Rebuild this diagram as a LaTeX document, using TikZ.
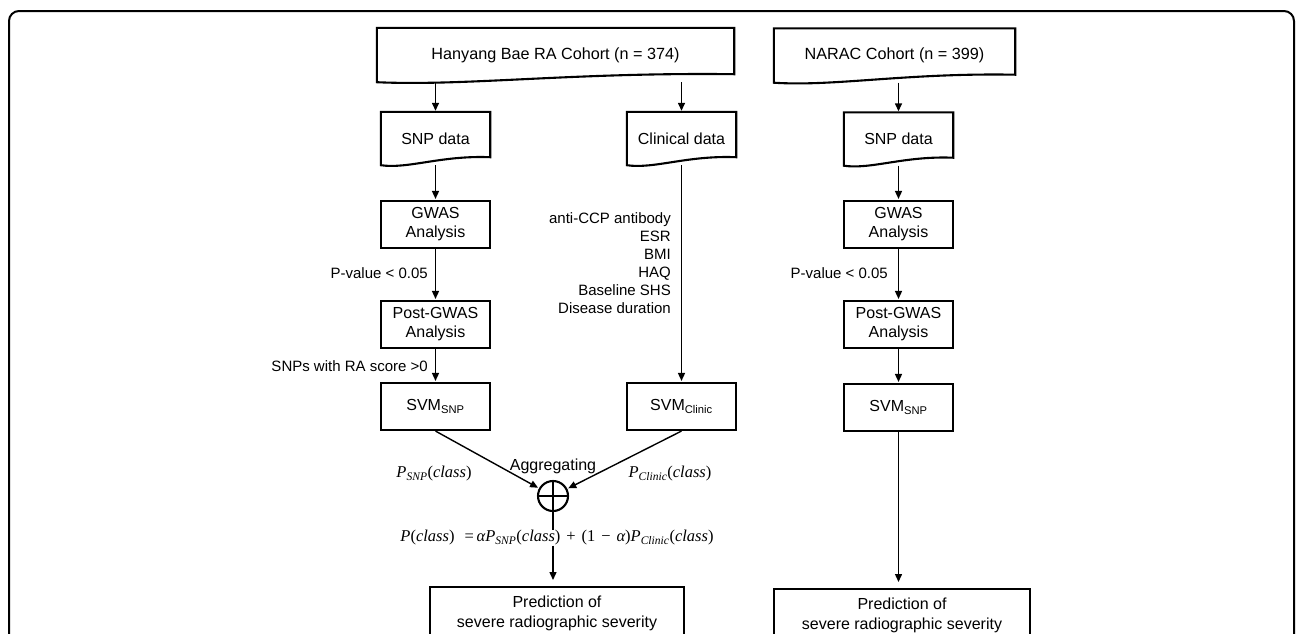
\documentclass[tikz,border=0pt]{standalone}
\usepackage{fontspec}
\setmainfont{Liberation Sans}
\newfontfamily\mathserif{Liberation Serif}
\usetikzlibrary{arrows.meta,calc}
\newcommand\mi[1]{{\itshape #1}}
\newcommand\msub[1]{\textsubscript{\itshape #1}}
\newcommand\opsp{\hspace{0.36em}}
\tikzset{
  boxline/.style={line width=2.1pt},
  box/.style={draw, boxline, minimum width=109pt, minimum height=47pt, inner sep=0pt, align=center, font=\fontsize{16}{19}\selectfont},
  docbox/.style={minimum width=109pt, minimum height=53pt, inner sep=0pt, align=center, font=\fontsize{16}{19}\selectfont},
  headbox/.style={docbox, minimum height=54pt, font=\fontsize{16.2}{20}\selectfont},
  predbox/.style={draw, boxline, anchor=north, minimum height=52pt, inner sep=0pt, align=center, font=\fontsize{16}{20}\selectfont},
  lbl/.style={inner sep=0pt, font=\fontsize{15}{18}\selectfont},
  mathlbl/.style={inner sep=0pt, font=\mathserif\fontsize{16.5}{19}\selectfont},
  arr/.style={line width=1.4pt, -{Triangle[length=8pt,width=7pt]}, shorten >=1pt},
  conn/.style={line width=1.4pt},
}
\newcommand\docoutline[1]{%
  \draw[boxline] (#1.north west) -- (#1.north east) -- ([yshift=8pt]#1.south east)
    .. controls ($(#1.south west)!0.55!(#1.south east)+(0,-10)$) and ($(#1.south west)!0.25!(#1.south east)+(0,4)$) .. (#1.south west) -- cycle;}
\begin{document}
\begin{tikzpicture}[x=1pt,y=-1pt]
\useasboundingbox (0,0) rectangle (1296,633);
\clip (0,0) rectangle (1296,633);
% frame
\draw[line width=2pt, rounded corners=10pt] (9,11) rectangle (1294,680);

% left / middle column
\node[headbox, minimum width=357pt] (hanyang) at (555.5,55) {Hanyang Bae RA Cohort (n = 374)};
\docoutline{hanyang}
\node[docbox] (snpL) at (435.5,138.5) {SNP data};
\docoutline{snpL}
\node[docbox] (clin) at (681.5,138.5) {Clinical data};
\docoutline{clin}
\node[box] (gwasL) at (435.5,224.5) {GWAS\\Analysis};
\node[box] (postL) at (435.5,324.5) {Post-GWAS\\Analysis};
\node[box] (svmL) at (435.5,406.5) {SVM\textsubscript{SNP}};
\node[box] (svmC) at (681.5,406.5) {SVM\textsubscript{Clinic}};
\node[circle, draw, boxline, minimum size=30pt, inner sep=0pt] (circ) at (553,496) {};
\draw[line width=1.6pt] (circ.north) -- (circ.south) (circ.west) -- (circ.east);
\node[lbl, font=\fontsize{16}{19}\selectfont] (aggr) at (553,466) {Aggregating};
\node[mathlbl] (psnp) at (434,474) {\mi{P}\msub{SNP}(\mi{class})};
\node[mathlbl] (pclin) at (670,474) {\mi{P}\msub{Clinic}(\mi{class})};
\node[mathlbl] (formula) at (557,538) {\mi{P}(\mi{class})\opsp\ =\,\mi{αP}\msub{SNP}(\mi{class})\opsp+\opsp(1\opsp−\opsp\mi{α})\mi{P}\msub{Clinic}(\mi{class})};
\node[predbox, minimum width=254pt] (predL) at (557,586) {Prediction of\\severe radiographic severity};

\node[lbl, anchor=east] (pvalL) at (428,273) {P-value < 0.05};
\node[lbl, anchor=east] (snpsRA) at (428,366) {SNPs with RA score >0};
\node[lbl, anchor=east, align=right] (clinvars) at (671,263) {anti-CCP antibody\\ESR\\BMI\\HAQ\\Baseline SHS\\Disease duration};

% right column
\node[headbox, minimum width=241pt] (narac) at (894.5,55.5) {NARAC Cohort (n = 399)};
\docoutline{narac}
\node[docbox] (snpR) at (898.5,139) {SNP data};
\docoutline{snpR}
\node[box] (gwasR) at (898.5,224.5) {GWAS\\Analysis};
\node[box] (postR) at (898.5,324.5) {Post-GWAS\\Analysis};
\node[box] (svmR) at (898.5,407.5) {SVM\textsubscript{SNP}};
\node[predbox, minimum width=256pt] (predR) at (902,588) {Prediction of\\severe radiographic severity};
\node[lbl, anchor=east] (pvalR) at (888,273) {P-value < 0.05};

% connectors left
\draw[arr] (hanyang.south -| snpL.north) -- (snpL.north);
\draw[arr] (hanyang.south -| clin.north) -- (clin.north);
\draw[arr] (snpL.south) -- (gwasL.north);
\draw[arr] (gwasL.south) -- (postL.north);
\draw[arr] (postL.south) -- (svmL.north);
\draw[arr] (clin.south) -- (svmC.north);
\draw[arr] (svmL.south) -- (circ);
\draw[arr] (svmC.south) -- (circ);
\draw[conn] (circ.south) -- (formula.north -| circ.south);
\draw[arr, shorten >=6pt] (formula.south -| circ.south) -- (predL.north -| circ.south);
% connectors right
\draw[arr] (narac.south -| snpR.north) -- (snpR.north);
\draw[arr] (snpR.south) -- (gwasR.north);
\draw[arr] (gwasR.south) -- (postR.north);
\draw[arr] (postR.south) -- (svmR.north);
\draw[arr, shorten >=6pt] (svmR.south) -- (predR.north -| svmR.south);
\end{tikzpicture}
\end{document}
